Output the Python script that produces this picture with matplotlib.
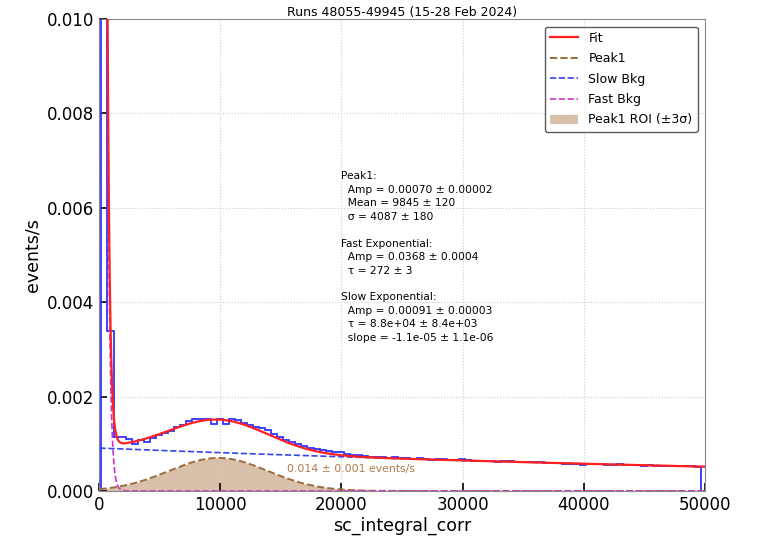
import numpy as np
import matplotlib
matplotlib.use("Agg")
import matplotlib.pyplot as plt

# ---------------- data ----------------
bin_width = 500
bin_start = 200
hist_values = [
    0.0300, 0.00340, 0.00115, 0.00115, 0.00110, 0.00099, 0.00108, 0.00103, 0.00112, 0.00118,
    0.00122, 0.00128, 0.00135, 0.00140, 0.00148, 0.00152, 0.00152, 0.00152, 0.00142, 0.00152,
    0.00142, 0.00152, 0.00150, 0.00145, 0.00140, 0.00136, 0.00134, 0.00130, 0.00120, 0.00114,
    0.00108, 0.00103, 0.00099, 0.00095, 0.00091, 0.00088, 0.00086, 0.00085, 0.00083, 0.00082,
    0.00079, 0.00077, 0.00076, 0.00075, 0.00073, 0.00072, 0.00072, 0.00070, 0.00071, 0.00069,
    0.00069, 0.00068, 0.00069, 0.00067, 0.00066, 0.00067, 0.00068, 0.00066, 0.00065, 0.00068,
    0.00065, 0.00064, 0.00063, 0.00064, 0.00064, 0.00062, 0.00063, 0.00063, 0.00061, 0.00061,
    0.00061, 0.00062, 0.00061, 0.00059, 0.00059, 0.00059, 0.00058, 0.00057, 0.00058, 0.00056,
    0.00058, 0.00058, 0.00057, 0.00056, 0.00056, 0.00057, 0.00055, 0.00055, 0.00055, 0.00054,
    0.00056, 0.00054, 0.00054, 0.00053, 0.00053, 0.00052, 0.00052, 0.00052, 0.00051,
]

# fit parameters (from the annotation)
peak_amp, peak_mean, peak_sigma = 0.00070, 9845.0, 4087.0
slow_amp, slow_tau = 0.00091, 8.8e4
fast_amp_eff, fast_tau_eff = 0.377, 190.0   # effective shape of the fast component as drawn

title_text = "Runs 48055-49945 (15-28 Feb 2024)"
annot_text = (
    "Peak1:\n"
    "  Amp = 0.00070 \u00b1 0.00002\n"
    "  Mean = 9845 \u00b1 120\n"
    "  \u03c3 = 4087 \u00b1 180\n"
    "\n"
    "Fast Exponential:\n"
    "  Amp = 0.0368 \u00b1 0.0004\n"
    "  \u03c4 = 272 \u00b1 3\n"
    "\n"
    "Slow Exponential:\n"
    "  Amp = 0.00091 \u00b1 0.00003\n"
    "  \u03c4 = 8.8e+04 \u00b1 8.4e+03\n"
    "  slope = -1.1e-05 \u00b1 1.1e-06"
)
roi_text = "0.014 \u00b1 0.001 events/s"

# ---------------- figure ----------------
fig = plt.figure(figsize=(7.59, 5.60), dpi=100)
ax = fig.add_axes([99 / 759, 69 / 560, 606 / 759, 472 / 560])

edges = bin_start + bin_width * np.arange(len(hist_values) + 1)
ax.stairs(hist_values, edges, color="#3333ff", lw=1.3, zorder=3)

x = np.linspace(50, 50000, 5000)
gauss = peak_amp * np.exp(-(x - peak_mean) ** 2 / (2 * peak_sigma ** 2))
slow = slow_amp * np.exp(-x / slow_tau)
fast = fast_amp_eff * np.exp(-x / fast_tau_eff)
fit = gauss + slow + fast

lo, hi = max(0, peak_mean - 3 * peak_sigma), peak_mean + 3 * peak_sigma
m = (x >= lo) & (x <= hi)
ax.fill_between(x[m], 0, gauss[m], color="#d9c0aa", lw=0, zorder=1,
                label="Peak1 ROI (\u00b13\u03c3)")

ax.plot(x, fit, color="#ff2020", lw=1.6, zorder=5, label="Fit")
ax.plot(x, gauss, color="#9c6b3c", lw=1.4, ls="--", zorder=4, label="Peak1")
ax.plot(x, slow, color="#3344ee", lw=1.2, ls="--", zorder=4, label="Slow Bkg")
ax.plot(x, fast, color="#cc33cc", lw=1.2, ls="--", zorder=4, label="Fast Bkg")

ax.set_xlim(0, 50000)
ax.set_ylim(0, 0.010)
ax.set_xticks([0, 10000, 20000, 30000, 40000, 50000])
ax.set_yticks([0, 0.002, 0.004, 0.006, 0.008, 0.010])
ax.set_yticklabels(["0.000", "0.002", "0.004", "0.006", "0.008", "0.010"])
ax.tick_params(direction="in", length=6, width=1.2, labelsize=12, colors="black")
ax.grid(True, ls=":", color="#cccccc", lw=0.8)
for s in ax.spines.values():
    s.set_color("#888888")

ax.set_xlabel("sc_integral_corr", fontsize=12.5, labelpad=2)
ax.set_ylabel("events/s", fontsize=12.5)
ax.set_title(title_text, fontsize=9, pad=1)

ax.text(0.40, 0.677, annot_text, transform=ax.transAxes, fontsize=7.7,
        va="top", ha="left", linespacing=1.43)
ax.text(15500, 0.00047, roi_text, fontsize=7.8, color="#b07a4a", va="center")

h, l = ax.get_legend_handles_labels()
order = [l.index(k) for k in ["Fit", "Peak1", "Slow Bkg", "Fast Bkg", "Peak1 ROI (\u00b13\u03c3)"]]
leg = ax.legend([h[i] for i in order], [l[i] for i in order], loc="upper right",
                fontsize=9, frameon=True, fancybox=True, edgecolor="#333333",
                borderaxespad=0.6, handlelength=2.3, labelspacing=0.6)
leg.get_frame().set_linewidth(1.0)

fig.savefig("out.png", dpi=100)
